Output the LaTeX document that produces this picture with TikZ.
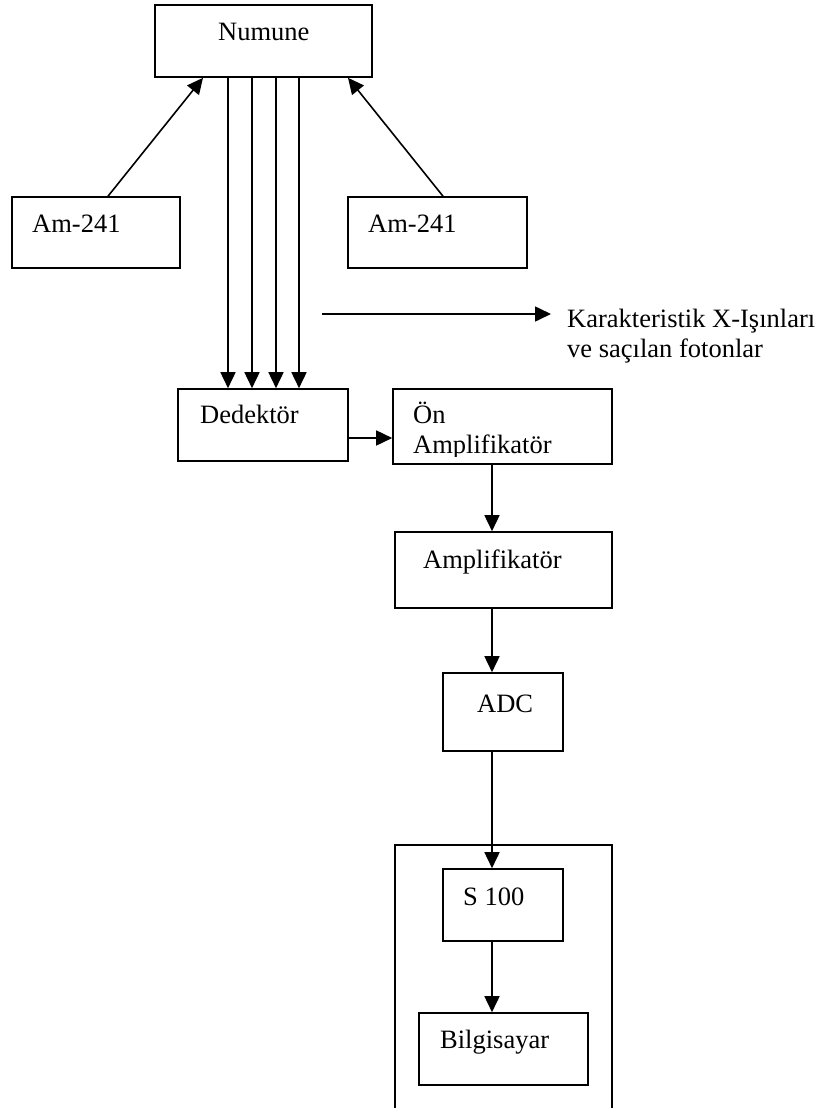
\documentclass[tikz,border=0pt]{standalone}
\usepackage{fontspec}
\setmainfont{Liberation Serif}
\usepackage{tikz}
\usetikzlibrary{positioning, calc, arrows.meta}

\begin{document}
\begin{tikzpicture}[
            x=1pt, y=-1pt,
            box/.style={rectangle, draw=black, fill=white, inner sep=0pt, line width=1.6pt},
            txt/.style={anchor=base west, inner sep=0pt, align=left, font=\fontsize{26.5}{30}\selectfont},
            arr/.style={-{Triangle[length=16pt, width=15pt]}, line width=1.6pt}
        ]
            \useasboundingbox (0,0) rectangle (837,1108);

            % Outer frame (open at the bottom)
            \draw[line width=1.6pt] (395,1108) |- (612,845) -- (612,1108);

            % Nodes
            \node[box, minimum width=217pt, minimum height=72pt] (numune) at (263.5,41) {};
            \node[box, minimum width=168pt, minimum height=71pt] (amL) at (96,232.5) {};
            \node[box, minimum width=179pt, minimum height=71pt] (amR) at (437.5,232.5) {};
            \node[box, minimum width=170pt, minimum height=72pt] (ded) at (263,425) {};
            \node[box, minimum width=219pt, minimum height=75pt] (on) at (502.5,426.5) {};
            \node[box, minimum width=217pt, minimum height=76pt] (amp) at (503.5,570) {};
            \node[box, minimum width=120pt, minimum height=78pt] (adc) at (503,712) {};
            \node[box, minimum width=120pt, minimum height=72pt] (s100) at (503,905) {};
            \node[box, minimum width=169pt, minimum height=72pt] (bilg) at (503.5,1049) {};

            % Labels
            \node[txt] (numuneT) at (218,41) {Numune};
            \node[txt] (amLT) at (32,232) {Am-241};
            \node[txt] (amRT) at (368,232) {Am-241};
            \node[txt] (dedT) at (200,423) {Dedektör};
            \begin{scope}
                \clip (393,389) rectangle (612,456);
                \node[txt] (onT) at (413,453) {Ön\\Amplifikatör};
            \end{scope}
            \node[txt] (ampT) at (423,568) {Amplifikatör};
            \node[txt] (adcT) at (477,712) {ADC};
            \node[txt] (s100T) at (463,905) {S 100};
            \node[txt] (bilgT) at (440,1048) {Bilgisayar};
            \node[txt] (karakT) at (567,357) {Karakteristik X-Işınları\\ve saçılan fotonlar};

            % Arrows
            \draw[arr] ([xshift=12pt]amL.north) -- ([xshift=-60.5pt]numune.south);
            \draw[arr] ([xshift=5.5pt]amR.north) -- ([xshift=84.5pt]numune.south);
            \foreach \px in {228,252,276,299} {
                \coordinate (ray) at (\px,0);
                \draw[arr] (numune.south -| ray) -- (ded.north -| ray);
            }
            \coordinate (rayStart) at (322,314);
            \coordinate (rayEnd) at (551,314);
            \draw[arr] (rayStart) -- (rayEnd);

            \draw[arr] ([yshift=-13pt]ded.east) -- ([yshift=-13pt]ded.east -| on.west);
            \coordinate (col) at (492,0);
            \draw[arr] (on.south -| col) -- (amp.north -| col);
            \draw[arr] (amp.south -| col) -- (adc.north -| col);
            \draw[arr] (adc.south -| col) -- (s100.north -| col);
            \draw[arr] (s100.south -| col) -- (bilg.north -| col);
        \end{tikzpicture}
\end{document}
